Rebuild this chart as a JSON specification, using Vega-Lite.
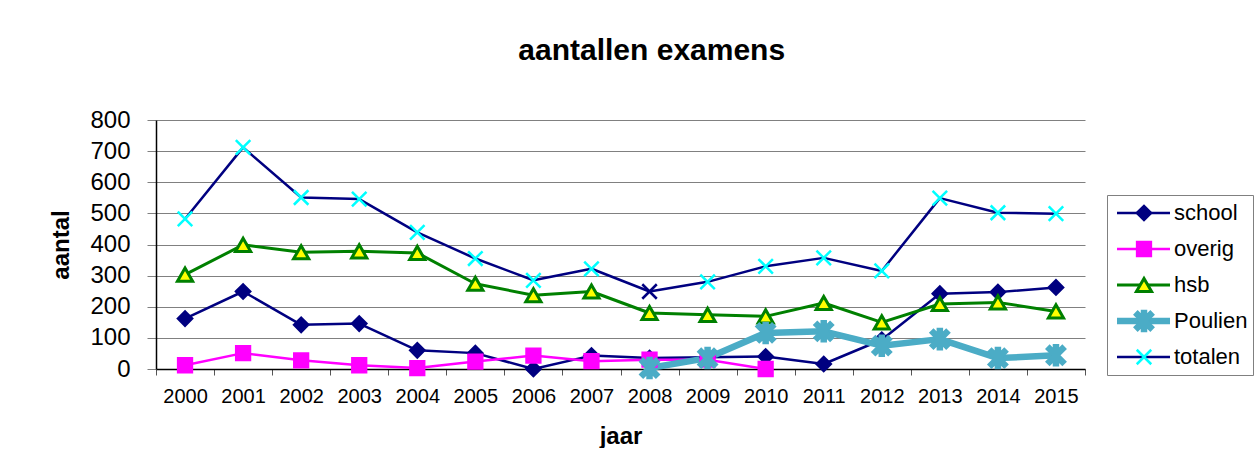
{
  "$schema": "https://vega.github.io/schema/vega-lite/v6.json",
  "padding": {"left": 49, "top": 36, "right": 0, "bottom": 0},
  "background": "white",
  "title": {"text": "aantallen examens", "fontSize": 30, "font": "Liberation Sans", "fontWeight": "bold", "color": "#000000", "offset": 42, "anchor": "middle"},
  "config": {"view": {"stroke": null}, "font": "Liberation Sans", "concat": {"spacing": 20}},
  "datasets": {
    "exams": [
      {"year": 2000, "series": "school", "value": 162}, {"year": 2001, "series": "school", "value": 249}, {"year": 2002, "series": "school", "value": 142}, {"year": 2003, "series": "school", "value": 146},
      {"year": 2004, "series": "school", "value": 60}, {"year": 2005, "series": "school", "value": 51}, {"year": 2006, "series": "school", "value": 0}, {"year": 2007, "series": "school", "value": 43},
      {"year": 2008, "series": "school", "value": 35}, {"year": 2009, "series": "school", "value": 38}, {"year": 2010, "series": "school", "value": 40}, {"year": 2011, "series": "school", "value": 16},
      {"year": 2012, "series": "school", "value": 94}, {"year": 2013, "series": "school", "value": 242}, {"year": 2014, "series": "school", "value": 247}, {"year": 2015, "series": "school", "value": 262},
      {"year": 2000, "series": "overig", "value": 12}, {"year": 2001, "series": "overig", "value": 51}, {"year": 2002, "series": "overig", "value": 28}, {"year": 2003, "series": "overig", "value": 12},
      {"year": 2004, "series": "overig", "value": 3}, {"year": 2005, "series": "overig", "value": 24}, {"year": 2006, "series": "overig", "value": 43}, {"year": 2007, "series": "overig", "value": 25},
      {"year": 2008, "series": "overig", "value": 30}, {"year": 2009, "series": "overig", "value": 30}, {"year": 2010, "series": "overig", "value": 0},
      {"year": 2000, "series": "hsb", "value": 303}, {"year": 2001, "series": "hsb", "value": 399}, {"year": 2002, "series": "hsb", "value": 375}, {"year": 2003, "series": "hsb", "value": 378},
      {"year": 2004, "series": "hsb", "value": 373}, {"year": 2005, "series": "hsb", "value": 274}, {"year": 2006, "series": "hsb", "value": 237}, {"year": 2007, "series": "hsb", "value": 249},
      {"year": 2008, "series": "hsb", "value": 180}, {"year": 2009, "series": "hsb", "value": 174}, {"year": 2010, "series": "hsb", "value": 169}, {"year": 2011, "series": "hsb", "value": 212},
      {"year": 2012, "series": "hsb", "value": 150}, {"year": 2013, "series": "hsb", "value": 209}, {"year": 2014, "series": "hsb", "value": 214}, {"year": 2015, "series": "hsb", "value": 185},
      {"year": 2008, "series": "Poulien", "value": 3}, {"year": 2009, "series": "Poulien", "value": 35}, {"year": 2010, "series": "Poulien", "value": 116}, {"year": 2011, "series": "Poulien", "value": 121},
      {"year": 2012, "series": "Poulien", "value": 75}, {"year": 2013, "series": "Poulien", "value": 96}, {"year": 2014, "series": "Poulien", "value": 35}, {"year": 2015, "series": "Poulien", "value": 44},
      {"year": 2000, "series": "totalen", "value": 482}, {"year": 2001, "series": "totalen", "value": 712}, {"year": 2002, "series": "totalen", "value": 551}, {"year": 2003, "series": "totalen", "value": 546},
      {"year": 2004, "series": "totalen", "value": 439}, {"year": 2005, "series": "totalen", "value": 355}, {"year": 2006, "series": "totalen", "value": 285}, {"year": 2007, "series": "totalen", "value": 322},
      {"year": 2008, "series": "totalen", "value": 249}, {"year": 2009, "series": "totalen", "value": 280}, {"year": 2010, "series": "totalen", "value": 330}, {"year": 2011, "series": "totalen", "value": 357},
      {"year": 2012, "series": "totalen", "value": 315}, {"year": 2013, "series": "totalen", "value": 549}, {"year": 2014, "series": "totalen", "value": 502}, {"year": 2015, "series": "totalen", "value": 499}
    ],
    "legend": [
      {"series": "school"}, {"series": "overig"}, {"series": "hsb"}, {"series": "Poulien"}, {"series": "totalen"}
    ]
  },
  "hconcat": [
    {
      "width": 929,
      "height": 249,
      "data": {"name": "exams"},
      "encoding": {
        "x": {
          "field": "year", "type": "ordinal",
          "scale": {"paddingInner": 0, "paddingOuter": 0},
          "axis": {
            "title": "jaar", "titleFontSize": 24, "titleFontWeight": "bold", "titleColor": "#000000", "titlePadding": 18, "titleFont": "Liberation Sans",
            "labelFontSize": 20, "labelAngle": 0, "labelColor": "#000000", "labelFont": "Liberation Sans", "labelPadding": 11,
            "tickBand": "extent", "tickSize": 6, "tickColor": "#555555", "tickWidth": 1,
            "domainColor": "#000000", "domainWidth": 1.5, "grid": false
          }
        },
        "y": {
          "field": "value", "type": "quantitative",
          "scale": {"domain": [0, 800], "nice": false},
          "axis": {
            "title": "aantal", "titleFontSize": 24, "titleFontWeight": "bold", "titleColor": "#000000", "titlePadding": 16, "titleFont": "Liberation Sans",
            "labelFontSize": 24, "labelColor": "#000000", "labelFont": "Liberation Sans", "labelPadding": 17,
            "values": [0, 100, 200, 300, 400, 500, 600, 700, 800],
            "tickSize": 9, "tickColor": "#808080", "tickWidth": 1,
            "domainColor": "#000000", "domainWidth": 1.5,
            "grid": true, "gridColor": "#808080", "gridWidth": 1
          }
        }
      },
      "layer": [
        {
          "mark": {"type": "line", "strokeJoin": "round"},
          "encoding": {
            "color": {"field": "series", "type": "nominal", "legend": null,
              "scale": {"domain": ["school", "overig", "hsb", "Poulien", "totalen"], "range": ["#000080", "#FF00FF", "#008000", "#4BACC6", "#000080"]}},
            "strokeWidth": {"field": "series", "type": "nominal", "legend": null,
              "scale": {"type": "ordinal", "domain": ["school", "overig", "hsb", "Poulien", "totalen"], "range": [2.5, 2.5, 3, 6.5, 2.5]}}
          }
        },
        {
          "mark": {"type": "point", "filled": true, "opacity": 1},
          "encoding": {
            "shape": {"field": "series", "type": "nominal", "legend": null,
              "scale": {"domain": ["school", "overig", "hsb", "Poulien", "totalen"], "range": ["diamond", "square", "triangle-up", "M-1,-1L1,1M-1,1L1,-1M0,-1.3L0,1.3", "M-1,-1L1,1M-1,1L1,-1"]}},
            "fill": {"field": "series", "type": "nominal", "legend": null,
              "scale": {"domain": ["school", "overig", "hsb", "Poulien", "totalen"], "range": ["#000080", "#FF00FF", "#FFFF00", "transparent", "transparent"]}},
            "stroke": {
              "condition": {"test": "datum.series === 'totalen' && datum.year === 2008", "value": "#000080"},
              "field": "series", "type": "nominal", "legend": null,
              "scale": {"domain": ["school", "overig", "hsb", "Poulien", "totalen"], "range": ["#000080", "#FF00FF", "#008000", "#4BACC6", "#00FFFF"]}},
            "size": {"field": "series", "type": "nominal", "legend": null,
              "scale": {"type": "ordinal", "domain": ["school", "overig", "hsb", "Poulien", "totalen"], "range": [200, 190, 230, 300, 210]}},
            "strokeWidth": {"field": "series", "type": "nominal", "legend": null,
              "scale": {"type": "ordinal", "domain": ["school", "overig", "hsb", "Poulien", "totalen"], "range": [1, 1, 1.5, 1.5, 2]}}
          }
        }
      ]
    },
    {
      "spacing": 20,
      "vconcat": [
        {
          "width": 146,
          "height": 54,
          "data": {"values": []},
          "mark": "point"
        },
        {
          "width": 146,
          "height": 180,
          "view": {"stroke": "#808080", "strokeWidth": 1},
          "data": {"name": "legend"},
          "encoding": {
            "y": {"field": "series", "type": "nominal", "sort": null, "axis": null,
              "scale": {"type": "point", "padding": 0.5, "domain": ["school", "overig", "hsb", "Poulien", "totalen"]}}
          },
          "layer": [
            {
              "mark": {"type": "rule"},
              "encoding": {
                "x": {"datum": 10, "type": "quantitative", "scale": {"domain": [0, 146], "nice": false, "zero": true}, "axis": null},
                "x2": {"datum": 63},
                "color": {"field": "series", "type": "nominal", "legend": null,
                  "scale": {"domain": ["school", "overig", "hsb", "Poulien", "totalen"], "range": ["#000080", "#FF00FF", "#008000", "#4BACC6", "#000080"]}},
                "strokeWidth": {"field": "series", "type": "nominal", "legend": null,
                  "scale": {"type": "ordinal", "domain": ["school", "overig", "hsb", "Poulien", "totalen"], "range": [2.5, 2.5, 3, 6.5, 2.5]}}
              }
            },
            {
              "mark": {"type": "point", "filled": true, "opacity": 1},
              "encoding": {
                "x": {"datum": 37, "type": "quantitative"},
                "shape": {"field": "series", "type": "nominal", "legend": null,
                  "scale": {"domain": ["school", "overig", "hsb", "Poulien", "totalen"], "range": ["diamond", "square", "triangle-up", "M-1,-1L1,1M-1,1L1,-1M0,-1.3L0,1.3", "M-1,-1L1,1M-1,1L1,-1"]}},
                "fill": {"field": "series", "type": "nominal", "legend": null,
                  "scale": {"domain": ["school", "overig", "hsb", "Poulien", "totalen"], "range": ["#000080", "#FF00FF", "#FFFF00", "transparent", "transparent"]}},
                "stroke": {"field": "series", "type": "nominal", "legend": null,
                  "scale": {"domain": ["school", "overig", "hsb", "Poulien", "totalen"], "range": ["#000080", "#FF00FF", "#008000", "#4BACC6", "#00FFFF"]}},
                "size": {"field": "series", "type": "nominal", "legend": null,
                  "scale": {"type": "ordinal", "domain": ["school", "overig", "hsb", "Poulien", "totalen"], "range": [200, 190, 230, 300, 210]}},
                "strokeWidth": {"field": "series", "type": "nominal", "legend": null,
                  "scale": {"type": "ordinal", "domain": ["school", "overig", "hsb", "Poulien", "totalen"], "range": [1, 1, 1.5, 1.5, 2]}}
              }
            },
            {
              "mark": {"type": "text", "align": "left", "baseline": "middle", "fontSize": 22, "font": "Liberation Sans", "color": "#000000"},
              "encoding": {
                "x": {"datum": 67, "type": "quantitative"},
                "text": {"field": "series", "type": "nominal"}
              }
            }
          ]
        }
      ]
    }
  ]
}
